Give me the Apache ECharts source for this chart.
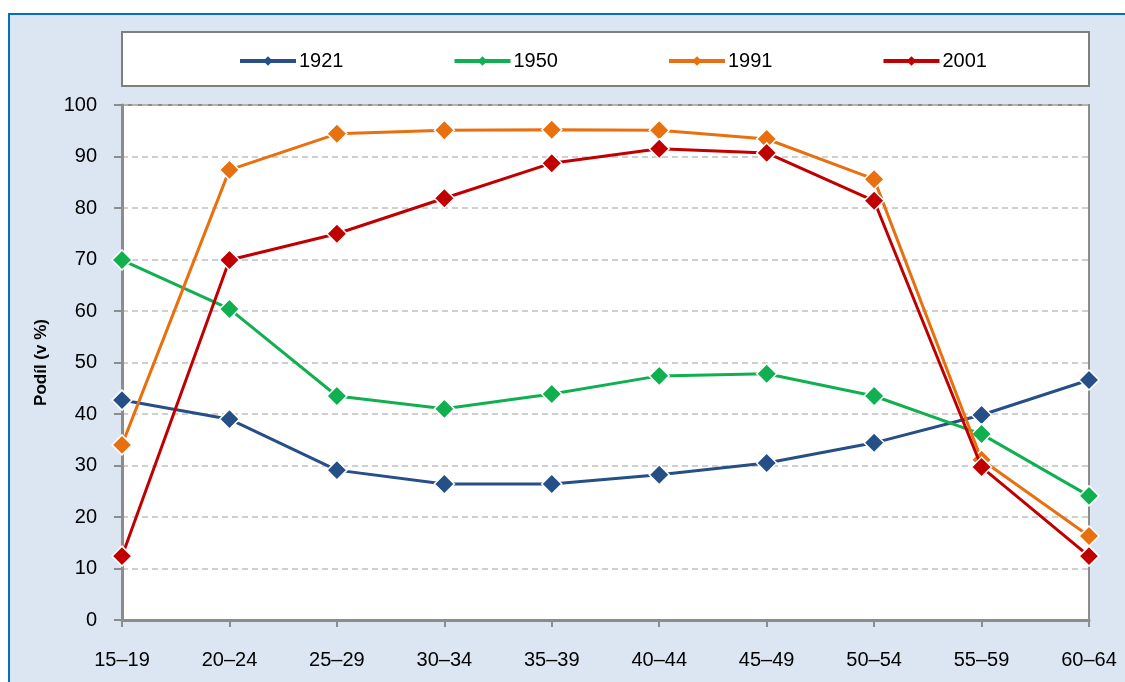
<!DOCTYPE html>
<html>
<head>
<meta charset="utf-8">
<script src="https://cdn.jsdelivr.net/npm/echarts@6/dist/echarts.min.js"></script>
<style>
  html, body { margin: 0; padding: 0; background: #fff; }
  #chart { width: 1125px; height: 682px; }
</style>
</head>
<body>
<div id="chart"></div>
<script>
// vekove skupiny
const ageGroups = ['15–19', '20–24', '25–29', '30–34', '35–39', '40–44', '45–49', '50–54', '55–59', '60–64']
const yTicks = [0, 10, 20, 30, 40, 50, 60, 70, 80, 90, 100]

const s1921 = [42.7, 39.0, 29.1, 26.4, 26.4, 28.2, 30.5, 34.4, 39.8, 46.6]
const s1950 = [69.9, 60.4, 43.5, 41.0, 43.9, 47.4, 47.8, 43.5, 36.1, 24.1]
const s1991 = [34.0, 87.4, 94.4, 95.1, 95.2, 95.1, 93.4, 85.6, 31.1, 16.3]
const s2001 = [12.4, 69.9, 75.0, 81.9, 88.7, 91.5, 90.7, 81.4, 29.7, 12.4]

const seriesNames = ['1921', '1950', '1991', '2001']
const seriesColors = ['#254f86', '#10b050', '#e8700f', '#c00000']
const seriesData = [s1921, s1950, s1991, s2001]

const chart = echarts.init(document.getElementById('chart'))
const font = 'Liberation Sans, Arial, sans-serif'

const option = {
    animation: false,
    textStyle: { fontFamily: font },
    graphic: [
        {
            type: 'rect', z: -10, silent: true,
            shape: { x: 9, y: 14, width: 1130, height: 700 },
            style: { fill: '#dce6f2', stroke: '#0070c0', lineWidth: 2 }
        },
        {
            type: 'rect', z: -5, silent: true,
            shape: { x: 122, y: 32, width: 967, height: 54 },
            style: { fill: '#ffffff', stroke: '#7f7f7f', lineWidth: 2 }
        }
    ],
    legend: {
        left: 233,
        top: 46,
        itemGap: 109,
        itemWidth: 56,
        itemHeight: 12,
        lineStyle: { width: 4 },
        itemStyle: { borderWidth: 0 },
        textStyle: { fontSize: 20, color: '#000', fontFamily: font, padding: [0, 0, 0, -2] },
        data: seriesNames
    },
    grid: {
        left: 122, top: 105, right: 36, bottom: 62,
        show: true,
        backgroundColor: '#ffffff',
        borderColor: '#8c8c8c',
        borderWidth: 2
    },
    xAxis: {
        type: 'category',
        boundaryGap: false,
        data: ageGroups,
        axisLine: { lineStyle: { color: '#8c8c8c', width: 3 } },
        axisTick: { show: true, length: 7, lineStyle: { color: '#8c8c8c', width: 2 } },
        axisLabel: { fontSize: 20, color: '#000', margin: 30, fontFamily: font },
        splitLine: { show: false }
    },
    yAxis: {
        type: 'value',
        min: 0, max: 100, interval: 10,
        name: 'Podíl (v %)',
        nameLocation: 'middle',
        nameGap: 72,
        nameTextStyle: { fontSize: 17, fontWeight: 'bold', color: '#000', fontFamily: font },
        axisLine: { show: true, lineStyle: { color: '#8c8c8c', width: 3 } },
        axisTick: { show: true, length: 8, lineStyle: { color: '#8c8c8c', width: 2 } },
        axisLabel: { fontSize: 20, color: '#000', margin: 25, fontFamily: font,
            formatter: v => yTicks.includes(v) ? String(v) : '' },
        splitLine: { show: true, lineStyle: { color: '#c0c0c0', type: [6, 4], width: 1.5 } }
    },
    series: seriesNames.map((name, i) => ({
        name: name,
        type: 'line',
        data: seriesData[i],
        symbol: 'diamond',
        symbolSize: 20,
        lineStyle: { color: seriesColors[i], width: 3 },
        itemStyle: { color: seriesColors[i], borderColor: '#ffffff', borderWidth: 1.5 },
        z: 2 + i
    }))
}

chart.setOption(option)
</script>
</body>
</html>
